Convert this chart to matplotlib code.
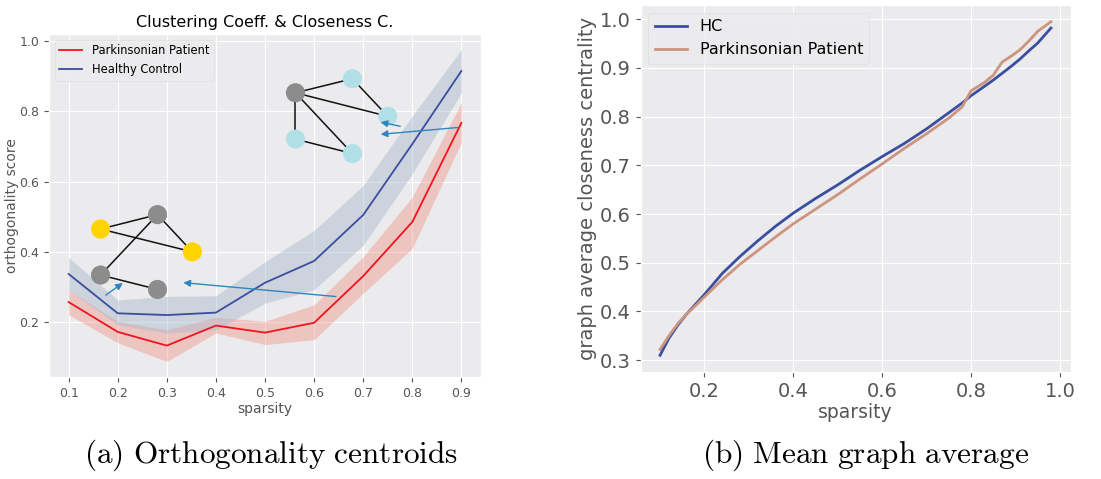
import matplotlib.pyplot as plt
import numpy as np

plt.style.use('ggplot')
plt.rcParams['mathtext.fontset'] = 'cm'

# (a) orthogonality centroids
sparsity = [0.1, 0.2, 0.3, 0.4, 0.5, 0.6, 0.7, 0.8, 0.9]
pp_mean = [0.257, 0.172, 0.133, 0.190, 0.170, 0.198, 0.331, 0.485, 0.767]
pp_low = [0.221, 0.141, 0.088, 0.169, 0.136, 0.150, 0.282, 0.410, 0.712]
pp_high = [0.292, 0.202, 0.178, 0.214, 0.202, 0.249, 0.386, 0.556, 0.825]
hc_mean = [0.337, 0.225, 0.220, 0.227, 0.312, 0.374, 0.505, 0.707, 0.915]
hc_low = [0.292, 0.192, 0.169, 0.178, 0.254, 0.292, 0.419, 0.622, 0.853]
hc_high = [0.384, 0.263, 0.273, 0.275, 0.372, 0.461, 0.589, 0.787, 0.976]

# small graph sketches (positions in sparsity / score units)
g1_x = [0.165, 0.281, 0.352, 0.165, 0.281]
g1_y = [0.465, 0.506, 0.400, 0.334, 0.293]
g1_col = ['#FFD400', '#8C8C8C', '#FFD400', '#8C8C8C', '#8C8C8C']
g1_edges = [(0, 1), (0, 2), (1, 2), (1, 3), (3, 4)]
g2_x = [0.562, 0.678, 0.750, 0.562, 0.678]
g2_y = [0.853, 0.893, 0.786, 0.721, 0.680]
g2_col = ['#8C8C8C', '#B0E0E6', '#B0E0E6', '#B0E0E6', '#B0E0E6']
g2_edges = [(0, 1), (0, 2), (1, 2), (0, 3), (0, 4), (3, 4)]
arrows = [((0.171, 0.272), (0.215, 0.316)),
          ((0.650, 0.272), (0.328, 0.313)),
          ((0.781, 0.756), (0.730, 0.771)),
          ((0.900, 0.755), (0.730, 0.734))]

# (b) mean graph average
sp_b = [0.10, 0.12, 0.14, 0.16, 0.18, 0.20, 0.24, 0.28, 0.32, 0.36, 0.40, 0.45,
        0.50, 0.55, 0.60, 0.65, 0.70, 0.75, 0.78, 0.80, 0.83, 0.85, 0.87, 0.89,
        0.91, 0.93, 0.95, 0.98]
hc_b = [0.310, 0.345, 0.372, 0.395, 0.415, 0.435, 0.478, 0.513, 0.545, 0.575,
        0.602, 0.632, 0.660, 0.690, 0.718, 0.745, 0.775, 0.808, 0.828, 0.843,
        0.862, 0.875, 0.889, 0.903, 0.918, 0.935, 0.951, 0.982]
pp_b = [0.322, 0.350, 0.375, 0.395, 0.412, 0.430, 0.465, 0.497, 0.525, 0.553,
        0.580, 0.610, 0.640, 0.672, 0.703, 0.735, 0.765, 0.797, 0.820, 0.853,
        0.870, 0.885, 0.912, 0.924, 0.937, 0.955, 0.975, 0.995]

bg = '#EBEAEC'
W, H = 1101, 479
fig = plt.figure(figsize=(W / 100, H / 100), dpi=100)

ax1 = fig.add_axes([49 / W, 1 - 377 / H, 432 / W, 343 / H])
ax1.set_facecolor(bg)
ax1.fill_between(sparsity, pp_low, pp_high, color='#F08070', alpha=0.35, lw=0)
ax1.fill_between(sparsity, hc_low, hc_high, color='#A8B8CC', alpha=0.45, lw=0)
ax1.plot(sparsity, pp_mean, color='#F0141E', lw=1.3, label='Parkinsonian Patient')
ax1.plot(sparsity, hc_mean, color='#3A4DA0', lw=1.3, label='Healthy Control')

for gx, gy, gc, ge in [(g1_x, g1_y, g1_col, g1_edges), (g2_x, g2_y, g2_col, g2_edges)]:
    for a, b in ge:
        ax1.plot([gx[a], gx[b]], [gy[a], gy[b]], color='#111111', lw=1.1, zorder=4)
    ax1.scatter(gx, gy, s=190, c=gc, zorder=5, edgecolors='none')
for (x0, y0), (x1, y1) in arrows:
    ax1.annotate('', xy=(x1, y1), xytext=(x0, y0),
                 arrowprops=dict(arrowstyle='-|>', color='#2E86C1', lw=1.0,
                                 mutation_scale=10), zorder=6)

ax1.set_xticks(sparsity)
ax1.set_yticks([0.2, 0.4, 0.6, 0.8, 1.0])
ax1.tick_params(labelsize=9, colors='#555555')
ax1.set_title('Clustering Coeff. & Closeness C.', fontsize=11.5, color='black', pad=5)
ax1.set_xlabel('sparsity', fontsize=10, color='#555555', labelpad=2)
ax1.set_ylabel('orthogonality score', fontsize=10, color='#555555', labelpad=0)
ax1.legend(loc='upper left', fontsize=8.3, frameon=True, facecolor=bg, edgecolor='#DDDDDD')

ax2 = fig.add_axes([640.5 / W, 1 - 372 / H, 430 / W, 367 / H])
ax2.set_facecolor(bg)
ax2.plot(sp_b, hc_b, color='#3B4FA0', lw=2, label='HC')
ax2.plot(sp_b, pp_b, color='#CC9580', lw=2, label='Parkinsonian Patient')
ax2.set_xticks([0.2, 0.4, 0.6, 0.8, 1.0])
ax2.set_yticks([0.3, 0.4, 0.5, 0.6, 0.7, 0.8, 0.9, 1.0])
ax2.tick_params(labelsize=14, colors='#555555')
ax2.set_xlabel('sparsity', fontsize=13.5, color='#555555', labelpad=2)
ax2.set_ylabel('graph average closeness centrality', fontsize=14, color='#555555', labelpad=2)
ax2.legend(loc='upper left', fontsize=11.5, frameon=True, facecolor=bg, edgecolor='#DDDDDD')

fig.text(271 / W, 1 - 463 / H, r'$\mathrm{(a)\ Orthogonality\ centroids}$',
         fontsize=22.5, ha='center', va='baseline')
fig.text(866 / W, 1 - 463 / H, r'$\mathrm{(b)\ Mean\ graph\ average}$',
         fontsize=22.5, ha='center', va='baseline')

fig.savefig('out.png', dpi=100, facecolor='white')
